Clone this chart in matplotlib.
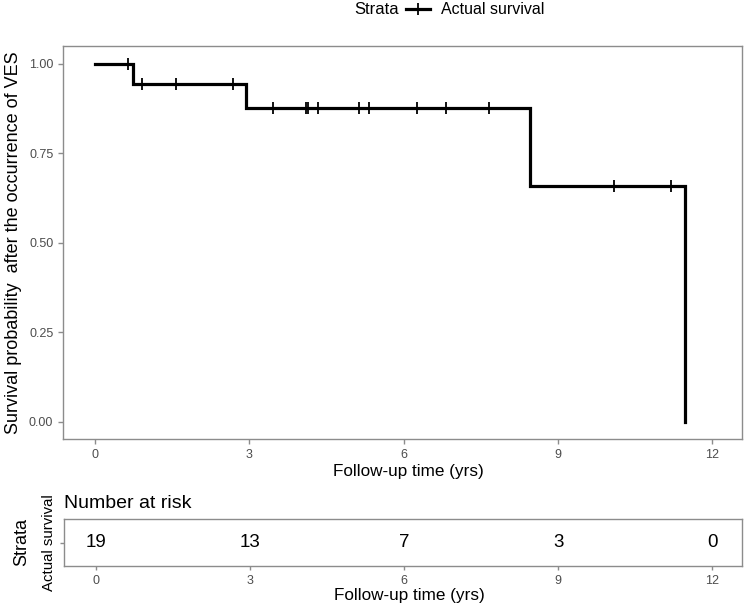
import numpy as np
import matplotlib
matplotlib.use("Agg")
import matplotlib.pyplot as plt
from matplotlib.lines import Line2D

plt.rcParams['font.family'] = ['Liberation Sans', 'DejaVu Sans']

# Data
event_times = [0.0, 0.75, 2.93, 8.45, 11.48]
survival = [1.0, 0.944, 0.877, 0.658, 0.0]
censor_times = [0.64, 0.91, 1.58, 2.68, 3.47, 4.10, 4.14, 4.34, 5.14, 5.32,
                6.26, 6.83, 7.67, 10.09, 11.20]
risk_times = [0, 3, 6, 9, 12]
risk_counts = [19, 13, 7, 3, 0]
y_ticks = [0.00, 0.25, 0.50, 0.75, 1.00]
x_ticks = [0, 3, 6, 9, 12]

fig = plt.figure(figsize=(7.5, 6.07), dpi=100)
W, H = 750, 607

def ax_rect(l, t, r, b):
    return [l / W, 1 - b / H, (r - l) / W, (b - t) / H]

spine_col = '#8c8c8c'
tick_col = '#4d4d4d'

ax = fig.add_axes(ax_rect(63, 46, 742, 439))
ax.step(event_times, survival, where='post', color='black', lw=2.3, solid_joinstyle='miter')
# censor marks
et = np.array(event_times)
sv = np.array(survival)
cy = sv[np.searchsorted(et, censor_times, side='right') - 1]
ax.plot(censor_times, cy, ls='none', marker='|', ms=9, mew=1.3, color='black')
ax.set_xlim(-0.62, 12.58)
ax.set_ylim(-0.0475, 1.05)
ax.set_xticks(x_ticks)
ax.set_yticks(y_ticks)
ax.set_yticklabels([f"{v:.2f}" for v in y_ticks])
ax.tick_params(colors=spine_col, labelcolor=tick_col, labelsize=9, length=3.5, width=1)
for s in ax.spines.values():
    s.set_color(spine_col)
    s.set_linewidth(1)
ax.set_xlabel("Follow-up time (yrs)", fontsize=12.3)
ax.xaxis.set_label_coords(0.509, -0.064)
ax.set_ylabel("Survival probability  after the occurrence of VES", fontsize=13, labelpad=5)

# legend
fig.text(354 / W, 1 - 10 / H, "Strata", fontsize=12, va='center', ha='left')
h = Line2D([], [], color='black', lw=2.3, marker='|', ms=9, mew=1.3)
fig.legend([h], ["Actual survival"], loc='center left', bbox_to_anchor=(406 / W, 1 - 10 / H),
           frameon=False, fontsize=11.5, handlelength=1.5, handletextpad=0.7, borderaxespad=0,
           borderpad=0)

# risk table
rax = fig.add_axes(ax_rect(64, 519, 742, 566))
for t, n in zip(risk_times, risk_counts):
    rax.text(t, 0.5, str(n), ha='center', va='center', fontsize=13.5)
rax.set_xlim(-0.62, 12.58)
rax.set_ylim(0, 1)
rax.set_xticks(x_ticks)
rax.set_yticks([0.5])
rax.tick_params(colors=spine_col, labelcolor=tick_col, labelsize=9, length=3, width=1)
rax.tick_params(axis='y', labelcolor='black', labelsize=10.8, pad=3)
rax.set_yticklabels(["Actual survival"], rotation=90, va='center')
for s in rax.spines.values():
    s.set_color(spine_col)
    s.set_linewidth(1)
rax.set_xlabel("Follow-up time (yrs)", fontsize=12.3)
rax.xaxis.set_label_coords(0.509, -0.46)
rax.set_ylabel("Strata", fontsize=13, labelpad=8)
rax.set_title("Number at risk", loc='left', fontsize=14, pad=8)

fig.savefig("out.png", dpi=100)
